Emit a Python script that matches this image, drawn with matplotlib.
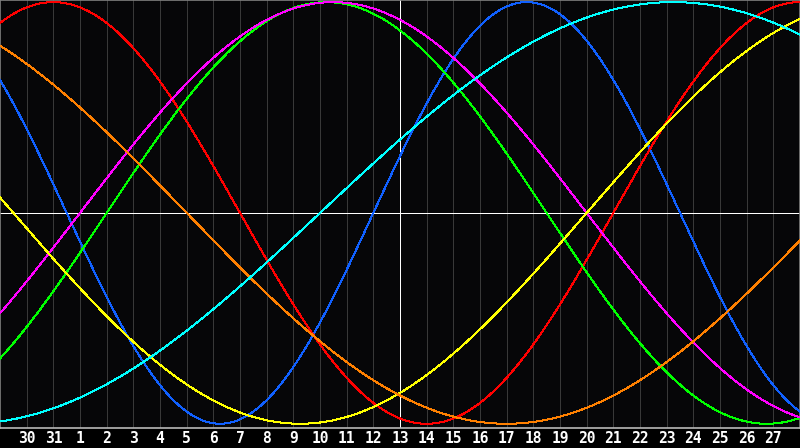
import numpy as np
import matplotlib
matplotlib.use("Agg")
from matplotlib import pyplot as plt

# ---------------------------------------------------------------------------
# Data: biorhythm cycles (length in days, day-in-cycle at left edge, colour)
# ---------------------------------------------------------------------------
cycle_lengths = [23, 28, 33, 38, 43, 48, 53]
cycle_start_day = [9, 5, 29, 35, 21, 17, 41]
cycle_colors = ["#1060ff", "#ff0000", "#00ff00", "#ff00ff", "#ffff00", "#ff8000", "#00ffff"]

# day labels along the bottom, one per grid line (first and last not shown)
day_labels = [29, 30, 31, 1, 2, 3, 4, 5, 6, 7, 8, 9, 10, 11, 12, 13, 14, 15,
              16, 17, 18, 19, 20, 21, 22, 23, 24, 25, 26, 27, 28]
today_index = 15

PX = 0.72  # one pixel in points at dpi 100

# ---------------------------------------------------------------------------
# Figure
# ---------------------------------------------------------------------------
fig = plt.figure(figsize=(8, 4.48), dpi=100, facecolor="black")
ax = fig.add_axes([0, 20 / 448, 1, 428 / 448])
ax.set_facecolor("#060608")

n_days = len(day_labels) - 1
d = np.linspace(0, n_days, 1600)

for length, start, color in zip(cycle_lengths, cycle_start_day, cycle_colors):
    y = np.sin(2 * np.pi * (start + d) / length)
    ax.plot(d, y, color=color, lw=PX, antialiased=False, zorder=3)

# grid lines every day
for i in range(1, n_days):
    ax.axvline(i, color="#383838", lw=PX, zorder=1, antialiased=False)

# today line and zero line
ax.axvline(today_index, color="white", lw=PX, zorder=2, antialiased=False)
ax.axhline(0, color="white", lw=PX, zorder=2, antialiased=False)

ax.set_xlim(0, n_days)
ax.set_ylim(-1.02, 1.01)
ax.set_xticks([])
ax.set_yticks([])
for side in ["left", "top", "right"]:
    ax.spines[side].set_color("#808080")
    ax.spines[side].set_linewidth(1.2)
ax.spines["bottom"].set_color("#b8b8b8")
ax.spines["bottom"].set_linewidth(1.2)

# day labels below the chart (x in data units, y in axes fraction)
trans = ax.get_xaxis_transform()
for i, lab in enumerate(day_labels):
    if i == 0 or i == n_days:
        continue
    ax.text(i, -10.5 / 428, str(lab), transform=trans, color="white",
            fontsize=10.5, fontweight="bold", family="DejaVu Sans Mono",
            ha="center", va="center", clip_on=False)

fig.savefig("out.png", dpi=100, facecolor="black")
plt.close(fig)
